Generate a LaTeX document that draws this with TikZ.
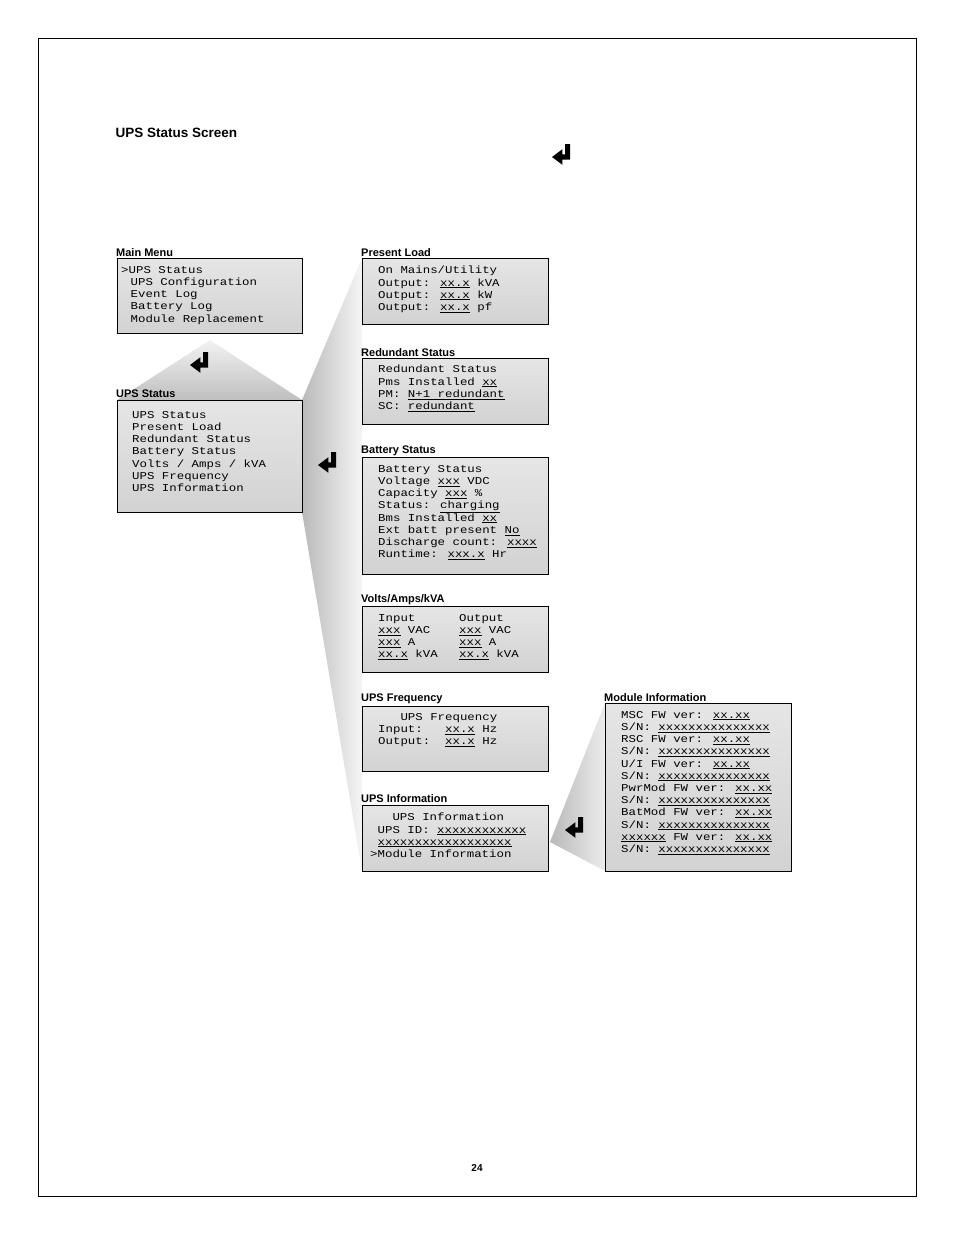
\documentclass[tikz,border=0pt]{standalone}
\usepackage{fontspec}
\setmainfont{Liberation Sans}
\newfontfamily\lcdfont{Liberation Mono}
\usetikzlibrary{positioning}
\tikzset{
 lcdbox/.style={draw=black,line width=0.8pt,top color=gray!20,bottom color=gray!35},
 boxtitle/.style={anchor=south west,inner sep=0pt,font=\bfseries\fontsize{11}{13}\selectfont},
 lcdtext/.style={anchor=north west,inner sep=0pt,align=left,xscale=1.18,transform shape,
   font=\lcdfont\fontsize{10.5}{12.2}\selectfont},
 fan/.style={fill=gray!35,draw=none}
}
\newcommand{\enterkey}[3]{% x, y, size
 \fill[black,shift={(#1,#2)},scale=#3] (0.2,-0.5) -- (0.2,0.1) -- (-0.1,0.1) -- (-0.1,0.3)
  -- (-0.5,0) -- (-0.1,-0.3) -- (-0.1,-0.1) -- (0,-0.1) -- (0,-0.5) -- cycle;}
\newcommand{\fld}[1]{\underline{#1}}
\begin{document}
\begin{tikzpicture}[x=1pt,y=-1pt]
 \useasboundingbox (0,0) rectangle (954,1235);
 \draw[line width=1pt] (38,38) rectangle (916,1196);
 \node[anchor=west,font=\bfseries\fontsize{13.5}{15}\selectfont] (head) at (112,133) {UPS Status Screen};
 \enterkey{565}{157}{26}
 \node[font=\bfseries\fontsize{10}{12}\selectfont] (page) at (477,1168) {24};

 % fans
 \shade[top color=gray!10,bottom color=gray!50] (210,340) -- (302,400) -- (117,400) -- cycle;
 \shade[left color=gray!55,right color=gray!8] (302,400) -- (362,258) -- (362,871) -- (302,512) -- cycle;
 \shade[left color=gray!55,right color=gray!15] (550,842) -- (605,703) -- (605,871) -- cycle;
 \enterkey{203}{365}{26}
 \enterkey{331}{465}{26}
 \enterkey{578}{830}{26}

 % main menu
 \draw[lcdbox] (117,258) rectangle (302,333);
 \node[boxtitle] (mmt) at (116,257) {Main Menu};
 \node[lcdtext] (mm) at (121,266) {>UPS Status\\\ \,UPS Configuration\\\ \,Event Log\\\ \,Battery Log\\\ \,Module Replacement};
 % ups status
 \draw[lcdbox] (117,400) rectangle (302,512);
 \node[boxtitle] (ust) at (116,398) {UPS Status};
 \node[lcdtext] (us) at (132,411) {UPS Status\\Present Load\\Redundant Status\\Battery Status\\Volts / Amps / kVA\\UPS Frequency\\UPS Information};
 % present load
 \draw[lcdbox] (362,258) rectangle (548,324);
 \node[boxtitle] (plt) at (361,257) {Present Load};
 \node[lcdtext] (pl) at (378,266) {On Mains/Utility\\Output: \fld{xx.x} kVA\\Output: \fld{xx.x} kW\\Output: \fld{xx.x} pf};
 % redundant
 \draw[lcdbox] (362,358) rectangle (548,424);
 \node[boxtitle] (rst) at (361,357) {Redundant Status};
 \node[lcdtext] (rs) at (378,365) {Redundant Status\\Pms Installed \fld{xx}\\PM: \fld{N+1 redundant}\\SC: \fld{redundant}};
 % battery
 \draw[lcdbox] (362,457) rectangle (548,574);
 \node[boxtitle] (bst) at (361,456) {Battery Status};
 \node[lcdtext] (bs) at (378,465) {Battery Status\\Voltage \fld{xxx} VDC\\Capacity \fld{xxx} \%\\Status: \fld{charging}\\Bms Installed \fld{xx}\\Ext batt present \fld{No}\\Discharge count: \fld{xxxx}\\Runtime: \fld{xxx.x} Hr};
 % volts
 \draw[lcdbox] (362,606) rectangle (548,672);
 \node[boxtitle] (vat) at (361,605) {Volts/Amps/kVA};
 \node[lcdtext] (va) at (378,614) {Input\\\fld{xxx} VAC\\\fld{xxx} A\\\fld{xx.x} kVA};
 \node[lcdtext] (vb) at (459,614) {Output\\\fld{xxx} VAC\\\fld{xxx} A\\\fld{xx.x} kVA};
 % frequency
 \draw[lcdbox] (362,706) rectangle (548,771);
 \node[boxtitle] (uft) at (361,704) {UPS Frequency};
 \node[lcdtext] (uf) at (378,713) {\ \ \ UPS Frequency\\Input:\ \ \ \fld{xx.x} Hz\\Output:\ \ \fld{xx.x} Hz};
 % information
 \draw[lcdbox] (362,805) rectangle (548,871);
 \node[boxtitle] (uit) at (361,803) {UPS Information};
 \node[lcdtext] (ui) at (370,813) {\ \ \ UPS Information\\\ UPS ID: \fld{xxxxxxxxxxxx}\\\ \fld{xxxxxxxxxxxxxxxxxx}\\>Module Information};
 % module information
 \draw[lcdbox] (605,703) rectangle (791,871);
 \node[boxtitle] (mit) at (604,702) {Module Information};
 \node[lcdtext] (mi) at (621,711) {MSC FW ver: \fld{xx.xx}\\S/N: \fld{xxxxxxxxxxxxxxx}\\RSC FW ver: \fld{xx.xx}\\S/N: \fld{xxxxxxxxxxxxxxx}\\U/I FW ver: \fld{xx.xx}\\S/N: \fld{xxxxxxxxxxxxxxx}\\PwrMod FW ver: \fld{xx.xx}\\S/N: \fld{xxxxxxxxxxxxxxx}\\BatMod FW ver: \fld{xx.xx}\\S/N: \fld{xxxxxxxxxxxxxxx}\\\fld{xxxxxx} FW ver: \fld{xx.xx}\\S/N: \fld{xxxxxxxxxxxxxxx}};
\end{tikzpicture}
\end{document}
